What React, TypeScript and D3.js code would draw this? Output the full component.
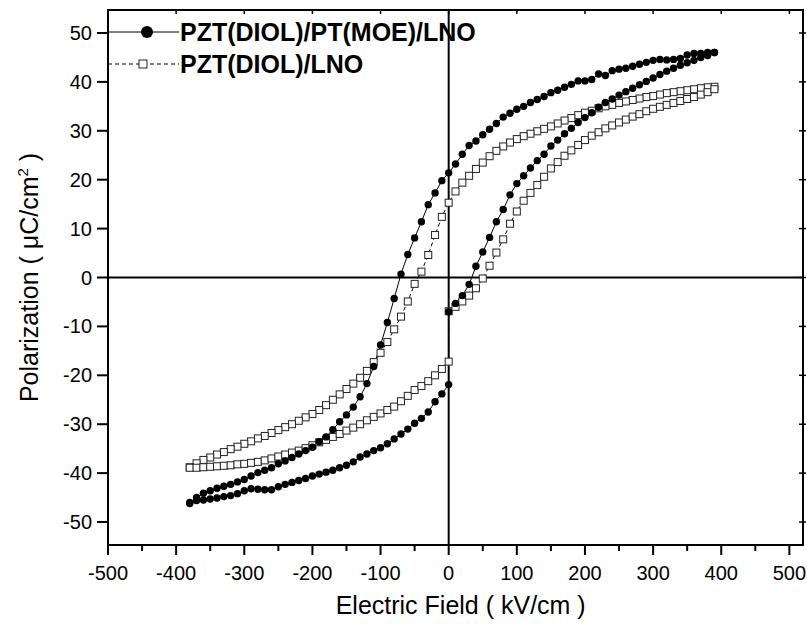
import React, { useEffect, useRef } from 'react';
import * as d3 from 'd3';

// sweep from +390 down to -380 kV/cm
const fieldDown = [
  390, 380, 370, 360, 350, 340, 330, 320, 310, 300, 290, 280, 270, 260, 250, 240, 230, 220, 210, 200,
  190, 180, 170, 160, 150, 140, 130, 120, 110, 100, 90, 80, 70, 60, 50, 40, 30, 20, 10, 0,
  -10, -20, -30, -40, -50, -60, -70, -80, -90, -100, -110, -120, -130, -140, -150, -160, -170, -180, -190, -200,
  -210, -220, -230, -240, -250, -260, -270, -280, -290, -300, -310, -320, -330, -340, -350, -360, -370, -380,
];
// sweep from -380 back to +390 (two readings at 0, the jump)
const fieldUp = [
  -380, -370, -360, -350, -340, -330, -320, -310, -300, -290, -280, -270, -260, -250, -240, -230, -220, -210, -200, -190,
  -180, -170, -160, -150, -140, -130, -120, -110, -100, -90, -80, -70, -60, -50, -40, -30, -20, -10, 0,
  0, 10, 20, 30, 40, 50, 60, 70, 80, 90, 100, 110, 120, 130, 140, 150, 160, 170, 180, 190,
  200, 210, 220, 230, 240, 250, 260, 270, 280, 290, 300, 310, 320, 330, 340, 350, 360, 370, 380, 390,
];

// PZT(DIOL)/PT(MOE)/LNO
const moeDown = [
  46.0, 46.0, 45.8, 45.8, 45.5, 44.8, 44.6, 44.5, 44.6, 44.4, 44.0, 43.6, 43.2, 42.8, 42.6, 42.3, 41.3, 41.6, 40.5, 40.2,
  40.2, 39.5, 38.9, 38.3, 37.8, 37.0, 36.4, 35.8, 35.0, 34.4, 33.6, 32.8, 31.5, 30.3, 29.2, 27.9, 27.0, 25.2, 23.2, 21.4,
  19.8, 17.3, 14.9, 11.4, 8.1, 4.7, 0.7, -4.3, -9.2, -13.8, -18.2, -21.7, -24.4, -26.5, -28.1, -29.5, -31.1, -32.6, -33.6, -34.7,
  -35.4, -36.1, -36.8, -37.5, -38.1, -38.9, -39.4, -39.9, -40.6, -41.3, -41.8, -42.3, -42.7, -43.1, -43.6, -44.1, -45.0, -46.0,
];
const moeUp = [
  -46.2, -45.6, -45.5, -45.3, -45.1, -44.8, -44.6, -44.2, -43.6, -43.2, -43.3, -43.4, -43.4, -42.8, -42.3, -41.9, -41.5, -41.1, -40.6, -40.2,
  -39.8, -39.4, -38.9, -38.4, -37.7, -36.7, -36.1, -35.4, -34.8, -34.0, -33.0, -32.0, -31.0, -29.8, -28.8, -27.5, -25.4, -23.8, -21.9,
  -7.0, -5.3, -3.7, -1.4, 2.3, 5.2, 8.2, 11.4, 13.9, 16.9, 19.2, 20.8, 22.4, 23.9, 25.2, 26.9, 28.1, 29.4, 30.5, 31.7,
  32.7, 33.7, 34.8, 35.8, 36.5, 37.3, 38.0, 38.7, 39.4, 40.1, 40.8, 41.5, 42.2, 42.8, 43.4, 43.9, 44.4, 45.0, 45.4, 46.0,
];

// PZT(DIOL)/LNO
const diolDown = [
  39.0, 38.9, 38.7, 38.5, 38.3, 38.1, 37.9, 37.7, 37.4, 37.1, 36.9, 36.6, 36.3, 36.0, 35.7, 35.3, 35.0, 34.6, 34.1, 33.7,
  33.2, 32.6, 32.1, 31.5, 30.9, 30.4, 29.9, 29.4, 28.9, 28.3, 27.6, 26.8, 25.9, 24.8, 23.5, 22.2, 20.8, 19.4, 17.6, 15.3,
  12.4, 8.7, 4.6, 1.2, -1.3, -4.9, -8.0, -10.6, -13.2, -15.4, -17.3, -19.1, -20.5, -21.7, -22.8, -23.9, -25.0, -26.1, -27.1, -27.9,
  -28.6, -29.3, -30.0, -30.6, -31.2, -31.8, -32.4, -32.9, -33.5, -34.0, -34.6, -35.1, -35.7, -36.2, -36.8, -37.3, -38.0, -38.8,
];
const diolUp = [
  -38.9, -38.9, -38.8, -38.7, -38.6, -38.5, -38.4, -38.2, -38.1, -37.9, -37.7, -37.4, -37.0, -36.6, -36.2, -35.8, -35.4, -34.9, -34.3, -33.7,
  -33.2, -32.6, -32.0, -31.3, -30.7, -30.0, -29.2, -28.5, -27.8, -27.1, -26.4, -25.3, -24.2, -23.0, -22.2, -21.2, -20.0, -18.7, -17.2,
  -6.9, -6.0, -4.9, -3.7, -2.2, -0.2, 2.4, 5.1, 7.8, 11.0, 13.5, 15.7, 17.3, 18.9, 20.6, 22.3, 23.6, 24.9, 26.0, 27.1,
  28.1, 29.0, 29.7, 30.5, 31.1, 31.7, 32.3, 32.9, 33.4, 34.0, 34.5, 34.9, 35.3, 35.7, 36.1, 36.5, 36.9, 37.4, 37.9, 38.5,
];

const xTicks = [-500, -400, -300, -200, -100, 0, 100, 200, 300, 400, 500];
const xMinor = [-450, -350, -250, -150, -50, 50, 150, 250, 350, 450];
const yTicks = [50, 40, 30, 20, 10, 0, -10, -20, -30, -40, -50];

const legendNames = ['PZT(DIOL)/PT(MOE)/LNO', 'PZT(DIOL)/LNO'];

type Pt = [number, number];
const zipLoop = (down: number[], up: number[]): Pt[] => [
  ...fieldDown.map((e, i) => [e, down[i]] as Pt),
  ...fieldUp.map((e, i) => [e, up[i]] as Pt),
];

const W = 807;
const H = 624;
const left = 108;
const right = 803;
const top = 10;
const bottom = 545;
const FONT = 'Liberation Sans, Arial, Helvetica, sans-serif';

const App = () => {
  const ref = useRef<SVGSVGElement>(null);

  useEffect(() => {
    const svg = d3.select(ref.current);
    svg.selectAll('*').remove();

    const x = d3.scaleLinear().domain([-500, 520]).range([left, right]);
    const y = d3.scaleLinear().domain([-54.7, 54.7]).range([bottom, top]);

    const line = d3
      .line<Pt>()
      .x((d) => x(d[0]))
      .y((d) => y(d[1]));

    const moe = zipLoop(moeDown, moeUp);
    const diol = zipLoop(diolDown, diolUp);

    // zero lines
    svg.append('line')
      .attr('x1', left).attr('x2', right)
      .attr('y1', y(0)).attr('y2', y(0))
      .attr('stroke', '#000').attr('stroke-width', 2);
    svg.append('line')
      .attr('x1', x(0)).attr('x2', x(0))
      .attr('y1', top).attr('y2', bottom)
      .attr('stroke', '#000').attr('stroke-width', 2);

    // series lines
    svg.append('path')
      .attr('d', line(diol))
      .attr('fill', 'none')
      .attr('stroke', '#000')
      .attr('stroke-width', 1)
      .attr('stroke-dasharray', '4,3');
    svg.append('path')
      .attr('d', line(moe))
      .attr('fill', 'none')
      .attr('stroke', '#000')
      .attr('stroke-width', 1);

    // markers
    svg.append('g')
      .selectAll('rect')
      .data(diol)
      .join('rect')
      .attr('x', (d) => x(d[0]) - 3.5)
      .attr('y', (d) => y(d[1]) - 3.5)
      .attr('width', 7)
      .attr('height', 7)
      .attr('fill', '#fff')
      .attr('stroke', '#222')
      .attr('stroke-width', 1);
    svg.append('g')
      .selectAll('circle')
      .data(moe)
      .join('circle')
      .attr('cx', (d) => x(d[0]))
      .attr('cy', (d) => y(d[1]))
      .attr('r', 3.7)
      .attr('fill', '#000');

    // frame
    svg.append('rect')
      .attr('x', left).attr('y', top)
      .attr('width', right - left).attr('height', bottom - top)
      .attr('fill', 'none')
      .attr('stroke', '#000')
      .attr('stroke-width', 2);

    // bottom axis
    const gx = svg.append('g');
    gx.selectAll('line.major')
      .data(xTicks)
      .join('line')
      .attr('class', 'major')
      .attr('x1', (d) => x(d)).attr('x2', (d) => x(d))
      .attr('y1', bottom).attr('y2', bottom + 10)
      .attr('stroke', '#000').attr('stroke-width', 2);
    gx.selectAll('line.minor')
      .data(xMinor)
      .join('line')
      .attr('class', 'minor')
      .attr('x1', (d) => x(d)).attr('x2', (d) => x(d))
      .attr('y1', bottom).attr('y2', bottom + 6)
      .attr('stroke', '#000').attr('stroke-width', 2);
    gx.selectAll('text')
      .data(xTicks)
      .join('text')
      .attr('x', (d) => x(d))
      .attr('y', bottom + 35)
      .attr('text-anchor', 'middle')
      .attr('font-family', FONT)
      .attr('font-size', 20)
      .text((d) => d);

    // top / right mirror ticks
    svg.append('g')
      .selectAll('line')
      .data(xTicks)
      .join('line')
      .attr('x1', (d) => x(d)).attr('x2', (d) => x(d))
      .attr('y1', top).attr('y2', top + 4)
      .attr('stroke', '#000').attr('stroke-width', 1.5);
    svg.append('g')
      .selectAll('line')
      .data(yTicks)
      .join('line')
      .attr('x1', right - 4).attr('x2', right + 3)
      .attr('y1', (d) => y(d)).attr('y2', (d) => y(d))
      .attr('stroke', '#000').attr('stroke-width', 1.5);

    // left axis
    const gy = svg.append('g');
    gy.selectAll('line')
      .data(yTicks)
      .join('line')
      .attr('x1', left - 11).attr('x2', left)
      .attr('y1', (d) => y(d)).attr('y2', (d) => y(d))
      .attr('stroke', '#000').attr('stroke-width', 2);
    gy.selectAll('text')
      .data(yTicks)
      .join('text')
      .attr('x', left - 16)
      .attr('y', (d) => y(d))
      .attr('dy', '0.35em')
      .attr('text-anchor', 'end')
      .attr('font-family', FONT)
      .attr('font-size', 20)
      .text((d) => d);

    // axis titles
    svg.append('text')
      .attr('x', x(0) + 12)
      .attr('y', 614)
      .attr('text-anchor', 'middle')
      .attr('font-family', FONT)
      .attr('font-size', 25)
      .text('Electric Field ( kV/cm )');

    const yt = svg.append('text')
      .attr('transform', `translate(38, ${y(0)}) rotate(-90)`)
      .attr('text-anchor', 'middle')
      .attr('font-family', FONT)
      .attr('font-size', 25);
    yt.append('tspan').text('Polarization ( \u03bcC/cm');
    yt.append('tspan').attr('dy', -10).attr('font-size', 15).text('2');
    yt.append('tspan').attr('dy', 10).text(' )');

    // legend
    const lg = svg.append('g');
    const rows = [32, 64];
    lg.append('line')
      .attr('x1', left).attr('x2', 179)
      .attr('y1', rows[0]).attr('y2', rows[0])
      .attr('stroke', '#000').attr('stroke-width', 1);
    lg.append('circle')
      .attr('cx', 147).attr('cy', rows[0]).attr('r', 6)
      .attr('fill', '#000');
    lg.append('line')
      .attr('x1', left).attr('x2', 179)
      .attr('y1', rows[1]).attr('y2', rows[1])
      .attr('stroke', '#000').attr('stroke-width', 1)
      .attr('stroke-dasharray', '4,3');
    lg.append('rect')
      .attr('x', 139).attr('y', rows[1] - 4).attr('width', 8).attr('height', 8)
      .attr('fill', '#fff').attr('stroke', '#222').attr('stroke-width', 1);
    lg.selectAll('text')
      .data(legendNames)
      .join('text')
      .attr('x', 180)
      .attr('y', (d, i) => rows[i])
      .attr('dy', '0.36em')
      .attr('font-family', FONT)
      .attr('font-size', 25)
      .attr('font-weight', 'bold')
      .text((d) => d);
  }, []);

  return (
    <svg
      ref={ref}
      width={W}
      height={H}
      style={{ position: 'absolute', left: 0, top: 0, background: '#fff' }}
    />
  );
};

export default App;
